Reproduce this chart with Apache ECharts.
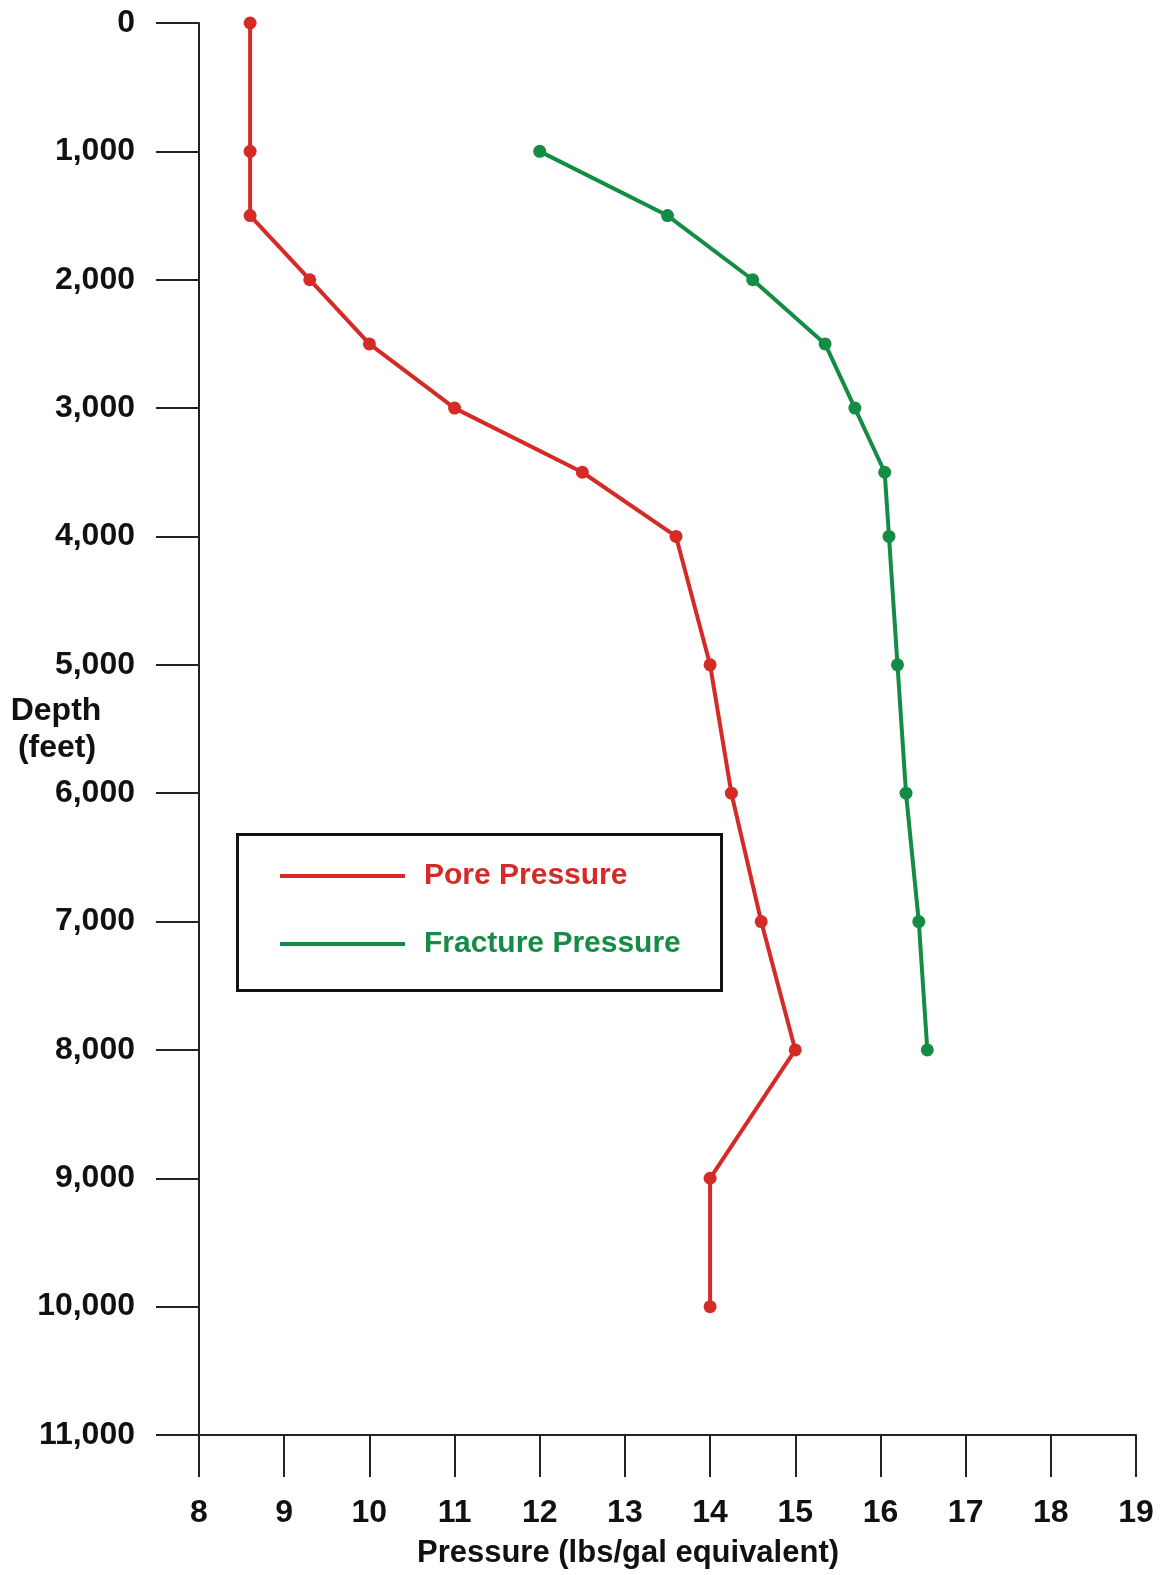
<!DOCTYPE html>
<html>
<head>
<meta charset="utf-8">
<script src="https://cdn.jsdelivr.net/npm/echarts@6/dist/echarts.min.js"></script>
<style>
html,body{margin:0;padding:0;background:#fff;}
#chart{width:1168px;height:1575px;}
</style>
</head>
<body>
<div id="chart"></div>
<script>
// Data
var poreDepths = [0, 1000, 1500, 2000, 2500, 3000, 3500, 4000, 5000, 6000, 7000, 8000, 9000, 10000];
var porePressure = [8.6, 8.6, 8.6, 9.3, 10.0, 11.0, 12.5, 13.6, 14.0, 14.25, 14.6, 15.0, 14.0, 14.0];
var fractureDepths = [1000, 1500, 2000, 2500, 3000, 3500, 4000, 5000, 6000, 7000, 8000];
var fracturePressure = [12.0, 13.5, 14.5, 15.35, 15.7, 16.05, 16.1, 16.2, 16.3, 16.45, 16.55];
var seriesNames = ['Pore Pressure', 'Fracture Pressure'];
var xAxisTitle = 'Pressure (lbs/gal equivalent)';
var yAxisTitle = ['Depth', '(feet)'];

var RED = '#d42b27';
var GREEN = '#148c45';
var FONT = '"Liberation Sans", Arial, sans-serif';

function pairs(xs, ys) {
  return ys.map(function (y, i) { return [xs[i], y]; });
}

var chart = echarts.init(document.getElementById('chart'));
chart.setOption({
  animation: false,
  backgroundColor: '#ffffff',
  grid: { left: 199, right: 32, top: 23, bottom: 140, containLabel: false, outerBoundsMode: 'none' },
  xAxis: {
    type: 'value', min: 8, max: 19, interval: 1, position: 'bottom',
    axisLine: { show: true, onZero: false, lineStyle: { color: '#222', width: 2 } },
    axisTick: { show: true, length: 42, lineStyle: { color: '#222', width: 2 } },
    axisLabel: { margin: 62, fontSize: 32, fontWeight: 'bold', color: '#111', fontFamily: FONT },
    splitLine: { show: false }
  },
  yAxis: {
    type: 'value', inverse: true, min: 0, max: 11000, interval: 1000, position: 'left',
    axisLine: { show: true, onZero: false, lineStyle: { color: '#222', width: 2 } },
    axisTick: { show: true, length: 43, lineStyle: { color: '#222', width: 2 } },
    axisLabel: {
      margin: 64, fontSize: 32, fontWeight: 'bold', color: '#111', fontFamily: FONT,
      formatter: function (v) { return v.toLocaleString('en-US'); }
    },
    splitLine: { show: false }
  },
  legend: {
    orient: 'vertical', left: 280, top: 861,
    icon: 'rect', itemWidth: 125, itemHeight: 4, itemGap: 38,
    padding: 0,
    textStyle: { fontSize: 30, fontWeight: 'bold', fontFamily: FONT, padding: [0, 0, 0, 14] },
    data: [
      { name: seriesNames[0], textStyle: { color: RED } },
      { name: seriesNames[1], textStyle: { color: GREEN } }
    ]
  },
  graphic: [
    { type: 'rect', shape: { x: 237.5, y: 834.5, width: 484, height: 156 },
      style: { fill: 'transparent', stroke: '#111', lineWidth: 3 }, z: 10 },
    { type: 'text', x: 628, y: 1553, style: { text: xAxisTitle, fontSize: 31, fontWeight: 'bold', fontFamily: FONT, fill: '#111', align: 'center', verticalAlign: 'middle' } },
    { type: 'text', x: 56, y: 711, style: { text: yAxisTitle[0], fontSize: 32, fontWeight: 'bold', fontFamily: FONT, fill: '#111', align: 'center', verticalAlign: 'middle' } },
    { type: 'text', x: 57, y: 748, style: { text: yAxisTitle[1], fontSize: 32, fontWeight: 'bold', fontFamily: FONT, fill: '#111', align: 'center', verticalAlign: 'middle' } }
  ],
  series: [
    {
      name: seriesNames[0], type: 'line',
      data: pairs(porePressure, poreDepths),
      symbol: 'circle', symbolSize: 13,
      lineStyle: { color: RED, width: 4 },
      itemStyle: { color: RED }
    },
    {
      name: seriesNames[1], type: 'line',
      data: pairs(fracturePressure, fractureDepths),
      symbol: 'circle', symbolSize: 13,
      lineStyle: { color: GREEN, width: 4 },
      itemStyle: { color: GREEN }
    }
  ]
});
</script>
</body>
</html>
